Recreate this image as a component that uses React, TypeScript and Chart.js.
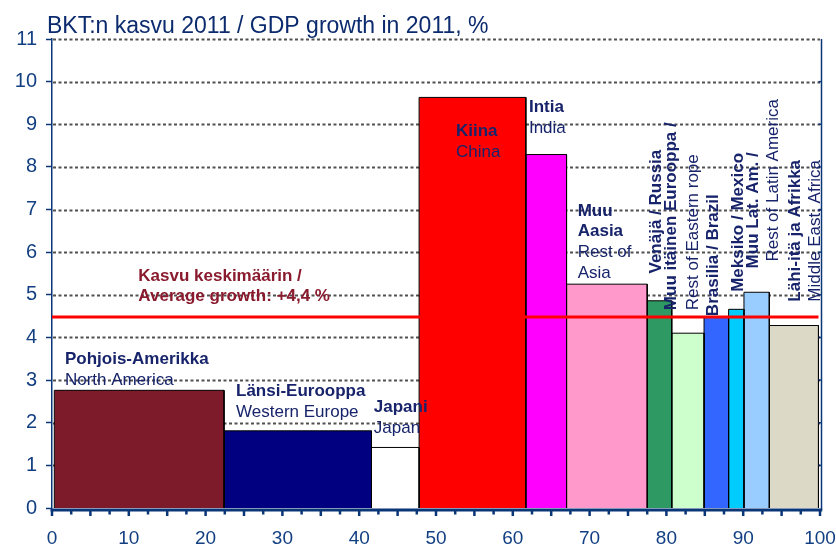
import React, { useEffect, useRef } from 'react';
import { Chart, registerables } from 'chart.js';
Chart.register(...registerables);

// ---- data ----
const regions = ['North America', 'Western Europe', 'Japan', 'China', 'India', 'Rest of Asia', 'Russia', 'Rest of Eastern Europe', 'Brazil', 'Mexico', 'Rest of Latin America', 'Middle East, Africa'];
const firstShareStart = 0.3;
const cumulativeShareEnd = [22.4, 41.6, 47.8, 61.7, 67.0, 77.5, 80.7, 84.9, 88.1, 90.1, 93.4, 99.8];
const growth2011 = [2.76, 1.81, 1.42, 9.63, 8.29, 5.25, 4.86, 4.10, 4.48, 4.66, 5.06, 4.28];
const averageGrowth = 4.48;
const xTickValues = [0, 2.5, 5, 7.5, 10, 12.5, 15, 17.5, 20, 22.5, 25, 27.5, 30, 32.5, 35, 37.5, 40, 42.5, 45, 47.5, 50, 52.5, 55, 57.5, 60, 62.5, 65, 67.5, 70, 72.5, 75, 77.5, 80, 82.5, 85, 87.5, 90, 92.5, 95, 97.5, 100];
const xTickLabels = ['0', '10', '20', '30', '40', '50', '60', '70', '80', '90', '100'];
const yTickLabels = ['0', '1', '2', '3', '4', '5', '6', '7', '8', '9', '10', '11'];
const titleText = 'BKT:n kasvu 2011 / GDP growth in 2011, %';

// ---- styles ----
const barColors = ['#7E1B2B', '#000080', '#FFFFFF', '#FF0000', '#FF00FF', '#FF99CC', '#2E9962', '#CCFFCC', '#3366FF', '#00CCFF', '#99CCFF', '#DDD9C7'];
const AXIS = '#0a3677';
const TICKTEXT = '#123f82';
const LABEL = '#17236a';
const AVGCOL = '#8a1b2e';
const FONT = 'Arial, "Liberation Sans", sans-serif';

// horizontal labels: anchor (data units) = left of first baseline
const blockLabels = [
  { lines: ['Pohjois-Amerikka', 'North America'], bold: [true, false], x: 1.69, y: 3.38, color: LABEL },
  { lines: ['Länsi-Eurooppa', 'Western Europe'], bold: [true, false], x: 23.96, y: 2.63, color: LABEL },
  { lines: ['Japani', 'Japan'], bold: [true, false], x: 41.9, y: 2.25, color: LABEL },
  { lines: ['Kiina', 'China'], bold: [true, false], x: 52.6, y: 8.72, color: LABEL },
  { lines: ['Intia', 'India'], bold: [true, false], x: 62.1, y: 9.29, color: LABEL },
  { lines: ['Muu', 'Aasia', 'Rest of', 'Asia'], bold: [true, true, false, false], x: 68.45, y: 6.86, color: LABEL },
  { lines: ['Kasvu keskimäärin /', 'Average growth: +4,4 %'], bold: [true, true], x: 11.24, y: 5.33, color: AVGCOL },
];
// vertical labels: baseline x and starting (bottom) y in data units
const rotatedLabels = [
  { text: 'Venäjä / Russia', bold: true, x: 79.3, y: 5.5 },
  { text: 'Muu itäinen Eurooppa /', bold: true, x: 81.3, y: 4.64 },
  { text: 'Rest of Eastern rope', bold: false, x: 84.1, y: 4.64 },
  { text: 'Brasilia / Brazil', bold: true, x: 86.76, y: 4.5 },
  { text: 'Meksiko / Mexico', bold: true, x: 90.0, y: 5.07 },
  { text: 'Muu Lat. Am. /', bold: true, x: 91.97, y: 5.62 },
  { text: 'Rest of Latin America', bold: false, x: 94.57, y: 5.78 },
  { text: 'Lähi-itä ja Afrikka', bold: true, x: 97.4, y: 4.84 },
  { text: 'Middle East, Africa', bold: false, x: 100.0, y: 4.84 },
];

const decorPlugin = {
  id: 'decor',
  beforeDatasetsDraw(chart: any) {
    const { ctx, chartArea, scales } = chart;
    const y = scales.y;
    ctx.save();
    ctx.strokeStyle = '#505050';
    ctx.lineWidth = 2;
    ctx.setLineDash([3, 2.5]);
    for (let v = 1; v <= 11; v++) {
      const py = Math.round(y.getPixelForValue(v)) + 0.5;
      ctx.beginPath();
      ctx.moveTo(chartArea.left + 1, py);
      ctx.lineTo(chartArea.right, py);
      ctx.stroke();
    }
    ctx.restore();
  },
  afterDatasetsDraw(chart: any) {
    const { ctx, chartArea, scales } = chart;
    const x = scales.x;
    const y = scales.y;
    ctx.save();
    // right border with inward ticks
    const rx = chartArea.right + 1.5;
    ctx.strokeStyle = AXIS;
    ctx.lineWidth = 1.5;
    ctx.beginPath();
    ctx.moveTo(rx, chartArea.top);
    ctx.lineTo(rx, chartArea.bottom + 2);
    ctx.stroke();
    for (let v = 1; v <= 10; v++) {
      const py = y.getPixelForValue(v);
      ctx.beginPath();
      ctx.moveTo(rx - 3, py);
      ctx.lineTo(rx, py);
      ctx.stroke();
    }
    // x axis line and ticks
    const ay = y.getPixelForValue(0) + 2;
    ctx.lineWidth = 3;
    ctx.beginPath();
    ctx.moveTo(chartArea.left - 1.5, ay);
    ctx.lineTo(rx + 0.75, ay);
    ctx.stroke();
    ctx.lineWidth = 2.5;
    xTickValues.forEach((v) => {
      const px = x.getPixelForValue(v);
      const len = v % 5 === 0 ? 6 : 4.5;
      ctx.beginPath();
      ctx.moveTo(px, ay);
      ctx.lineTo(px, ay + len);
      ctx.stroke();
    });

    // horizontal labels
    ctx.textAlign = 'left';
    ctx.textBaseline = 'alphabetic';
    blockLabels.forEach((b) => {
      const px = x.getPixelForValue(b.x);
      const py = y.getPixelForValue(b.y);
      b.lines.forEach((line, i) => {
        ctx.font = (b.bold[i] ? 'bold ' : '') + '17px ' + FONT;
        ctx.fillStyle = b.color;
        ctx.fillText(line, px, py + i * 20.7);
      });
    });
    // rotated labels
    rotatedLabels.forEach((r) => {
      ctx.save();
      ctx.translate(x.getPixelForValue(r.x), y.getPixelForValue(r.y));
      ctx.rotate(-Math.PI / 2);
      ctx.font = (r.bold ? 'bold ' : '') + '17px ' + FONT;
      ctx.fillStyle = LABEL;
      ctx.fillText(r.text, 0, 0);
      ctx.restore();
    });
    // title
    ctx.font = '23px ' + FONT;
    ctx.fillStyle = '#0c2b6e';
    ctx.fillText(titleText, 47, 33);
    ctx.restore();
  },
};

export default function App() {
  const ref = useRef<HTMLCanvasElement>(null);
  useEffect(() => {
    if (!ref.current) return;
    const barDatasets = regions.map((name, i) => {
      const s = i === 0 ? firstShareStart : cumulativeShareEnd[i - 1];
      const e = cumulativeShareEnd[i];
      const g = growth2011[i];
      return {
        type: 'line' as const,
        label: name,
        data: [{ x: s, y: 0 }, { x: s, y: g }, { x: e, y: g }, { x: e, y: 0 }],
        backgroundColor: barColors[i],
        borderColor: '#000000',
        borderWidth: 1,
        fill: 'origin',
        pointRadius: 0,
        tension: 0,
        order: 2,
      };
    });
    const avgDataset = {
      type: 'line' as const,
      label: 'Average',
      data: [{ x: 0, y: averageGrowth }, { x: cumulativeShareEnd[cumulativeShareEnd.length - 1], y: averageGrowth }],
      borderColor: '#FF0000',
      borderWidth: 3,
      fill: false,
      pointRadius: 0,
      order: 1,
    };
    const chart = new Chart(ref.current, {
      type: 'line',
      data: { datasets: [avgDataset, ...barDatasets] as any },
      options: {
        animation: false,
        responsive: false,
        layout: { padding: { top: 39, right: 16, left: 0, bottom: 0 } },
        plugins: { legend: { display: false }, tooltip: { enabled: false }, title: { display: false } },
        scales: {
          x: {
            type: 'linear',
            min: 0,
            max: 100,
            afterFit: (s: any) => { s.height = 45; s.paddingLeft = 0; s.paddingRight = 0; },
            afterBuildTicks: (s: any) => { s.ticks = xTickValues.map((v) => ({ value: v })); },
            ticks: {
              autoSkip: false,
              maxRotation: 0,
              padding: 11,
              color: TICKTEXT,
              font: { family: FONT, size: 19 },
              callback: (v: any) => (Number(v) % 10 === 0 ? xTickLabels[Number(v) / 10] : ''),
            },
            grid: { display: true, drawOnChartArea: false, color: 'transparent', tickColor: 'transparent', tickLength: 8 },
            border: { display: false },
          },
          y: {
            type: 'linear',
            min: 0,
            max: 11,
            afterFit: (s: any) => { s.width = 52; s.paddingTop = 0; s.paddingBottom = 0; },
            ticks: {
              stepSize: 1,
              padding: 9,
              color: TICKTEXT,
              font: { family: FONT, size: 20 },
              callback: (v: any) => yTickLabels[Number(v)],
            },
            grid: { display: true, drawOnChartArea: false, color: 'transparent', tickColor: AXIS, tickLength: 6, tickWidth: 1.5 },
            border: { display: true, color: AXIS, width: 1.5 },
          },
        },
      },
      plugins: [decorPlugin],
    });
    return () => chart.destroy();
  }, []);
  return (
    <div style={{ position: 'fixed', left: 0, top: 0, width: 836, height: 553, background: '#fff' }}>
      <canvas ref={ref} width={836} height={553} style={{ width: 836, height: 553, display: 'block' }} />
    </div>
  );
}
